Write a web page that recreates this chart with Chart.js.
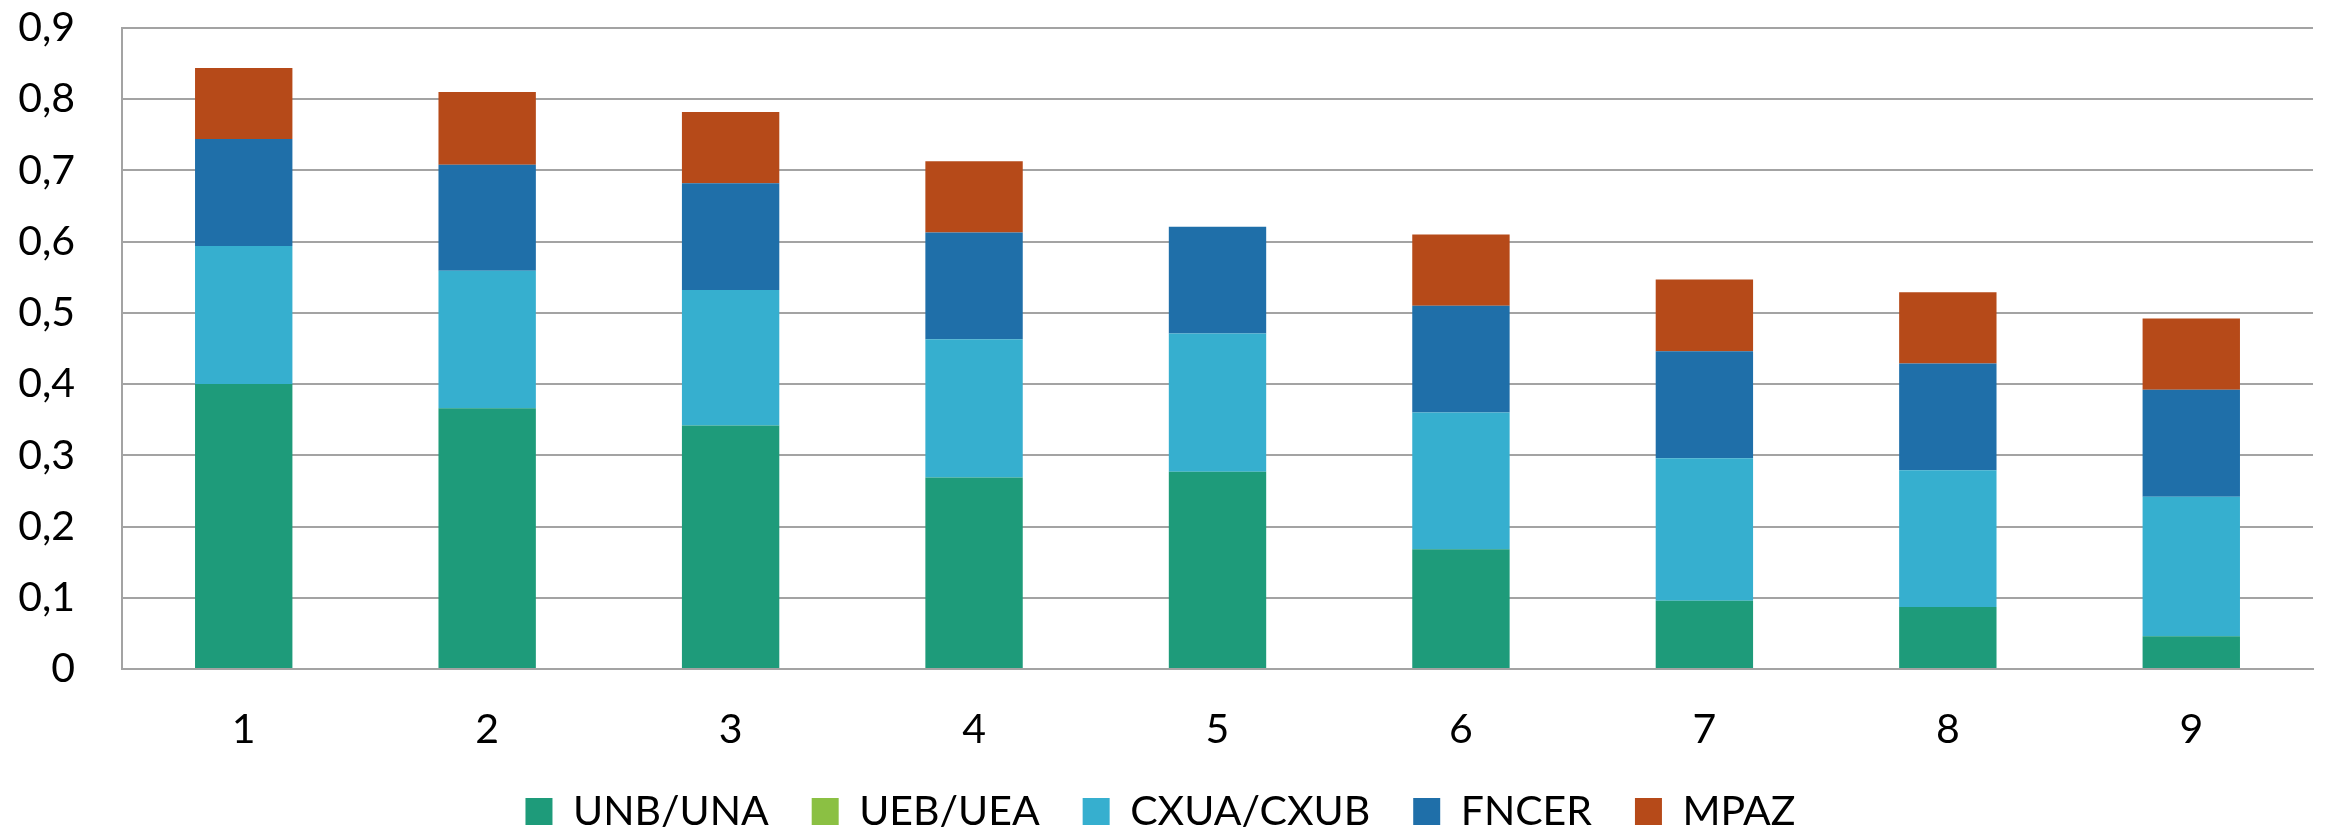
<!DOCTYPE html>
<html>
<head>
<meta charset="utf-8">
<script src="https://cdn.jsdelivr.net/npm/chart.js@4"></script>
<style>
  html, body { margin: 0; padding: 0; background: #fff; }
  #wrap { width: 2326px; height: 833px; }
</style>
</head>
<body>
<div id="wrap"><canvas id="stackChart"></canvas></div>
<script>
// values, one list per series
const categories = ['1', '2', '3', '4', '5', '6', '7', '8', '9'];
const unbUna   = [0.400, 0.366, 0.342, 0.269, 0.277, 0.168, 0.096, 0.087, 0.046];
const uebUea   = [0, 0, 0, 0, 0, 0, 0, 0, 0];
const cxuaCxub = [0.194, 0.193, 0.190, 0.194, 0.194, 0.192, 0.200, 0.192, 0.196];
const fncer    = [0.150, 0.149, 0.150, 0.150, 0.150, 0.150, 0.150, 0.150, 0.150];
const mpaz     = [0.100, 0.102, 0.100, 0.100, 0, 0.100, 0.101, 0.100, 0.100];
const yTicks   = ['0', '0,1', '0,2', '0,3', '0,4', '0,5', '0,6', '0,7', '0,8', '0,9'];

const fontFamily = 'Lato, "Open Sans", sans-serif';
const gridColor = '#a3a3a3';

function series(label, data, color) {
    return { label: label, data: data, backgroundColor: color, borderWidth: 0 };
}

window.addEventListener('DOMContentLoaded', () => {
    const ctx = document.getElementById('stackChart');
    new Chart(ctx, {
        type: 'bar',
        data: {
            labels: categories,
            datasets: [
                series('UNB/UNA', unbUna, '#1e9b7a'),
                series('UEB/UEA', uebUea, '#8bc043'),
                series('CXUA/CXUB', cxuaCxub, '#36afcf'),
                series('FNCER', fncer, '#1f6fa9'),
                series('MPAZ', mpaz, '#b64a19')
            ]
        },
        options: {
            responsive: true,
            maintainAspectRatio: false,
            animation: false,
            devicePixelRatio: 1,
            layout: { padding: { top: 0, right: 13, left: 8, bottom: -9 } },
            datasets: { bar: { barPercentage: 0.4, categoryPercentage: 1 } },
            scales: {
                x: {
                    stacked: true,
                    grid: { display: false, drawTicks: false },
                    border: { display: true, color: gridColor, width: 2 },
                    ticks: { color: '#000', font: { family: fontFamily, size: 41, lineHeight: 1 }, padding: 40 },
                    afterFit: (s) => { s.height = 79; }
                },
                y: {
                    stacked: true,
                    min: 0,
                    max: 0.9,
                    grid: { color: gridColor, lineWidth: 2, drawTicks: false },
                    border: { display: true, color: gridColor, width: 2 },
                    ticks: {
                        stepSize: 0.1,
                        color: '#000',
                        font: { family: fontFamily, size: 41 },
                        padding: 47,
                        callback: (v, i) => yTicks[i]
                    },
                    // pin the plot box to where the reference has it
                    afterFit: (s) => {
                        s.width = 114;
                        s.paddingTop = 28;
                        s.paddingBottom = 0;
                    }
                }
            },
            plugins: {
                legend: {
                    position: 'bottom',
                    labels: {
                        color: '#000',
                        font: { family: fontFamily, size: 41 },
                        boxWidth: 27,
                        boxHeight: 27,
                        padding: 43
                    }
                },
                tooltip: { enabled: false }
            }
        }
    });
});
</script>
</body>
</html>
